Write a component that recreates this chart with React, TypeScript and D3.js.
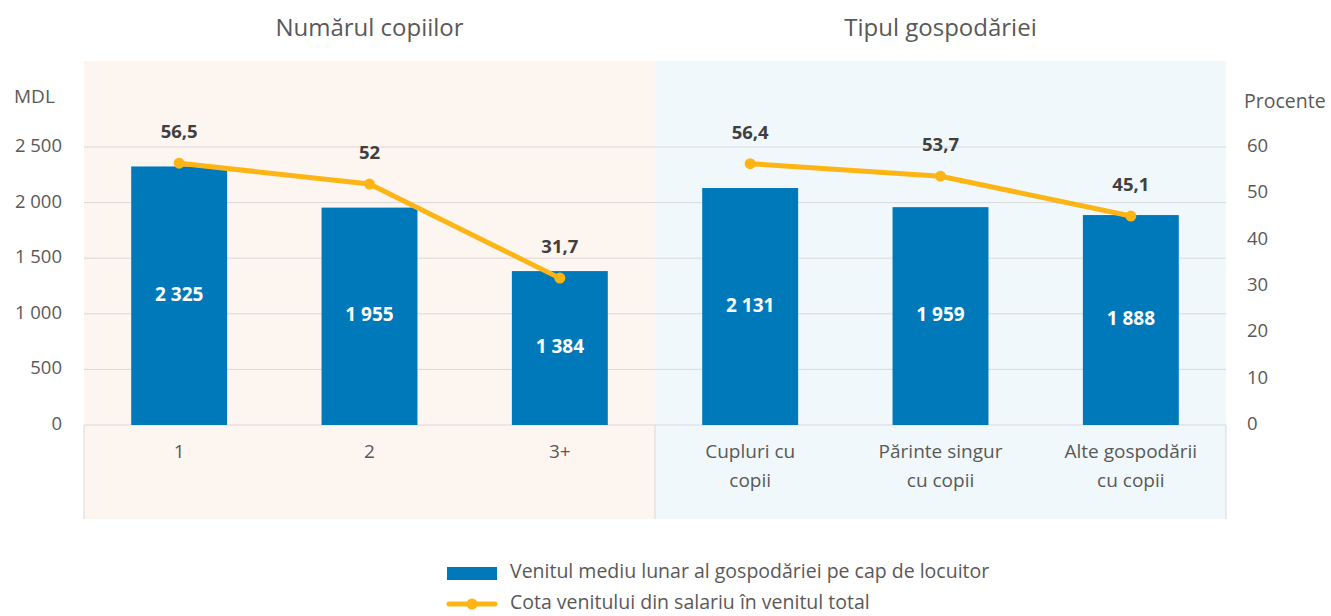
import React from "react";
import * as d3 from "d3";

const categories = ["1", "2", "3+", "Cupluri cu\ncopii", "Părinte singur\ncu copii", "Alte gospodării\ncu copii"];
const groups = ["Numărul copiilor", "Tipul gospodăriei"];
const groupOf = [0, 0, 0, 1, 1, 1];
const income = [2325, 1955, 1384, 2131, 1959, 1888];
const incomeLabels = ["2 325", "1 955", "1 384", "2 131", "1 959", "1 888"];
const share = [56.5, 52, 31.7, 56.4, 53.7, 45.1];
const shareLabels = ["56,5", "52", "31,7", "56,4", "53,7", "45,1"];
const leftTicks = [0, 500, 1000, 1500, 2000, 2500];
const leftTickLabels = ["0", "500", "1 000", "1 500", "2 000", "2 500"];
const rightTicks = [0, 10, 20, 30, 40, 50, 60];
const legendLabels = ["Venitul mediu lunar al gospodăriei pe cap de locuitor", "Cota venitului din salariu în venitul total"];

const W = 1331, H = 616;
const plotL = 84, plotR = 1226, plotT = 61, zeroY = 425, catB = 519;
const BAR = "#0079BA", LINE = "#FDB515", TXT = "#595959", GRID = "#D9D9D9";
const bgColors = ["#FDF5F0", "#F0F8FB"];
const FONT = "'Open Sans', sans-serif";

export default function App() {
  const x = d3.scaleBand<number>().domain(d3.range(categories.length)).range([plotL, plotR]).paddingInner(0.496).paddingOuter(0.248);
  const yL = d3.scaleLinear().domain([0, 2500]).range([zeroY, 147]);
  const yR = d3.scaleLinear().domain([0, 60]).range([zeroY, 147]);
  const cx = (i: number) => (x(i) as number) + x.bandwidth() / 2;
  const step = x.step();
  const groupX0 = (g: number) => {
    const idx = groupOf.indexOf(g);
    return g === 0 ? plotL : (x(idx) as number) - (step - x.bandwidth()) / 2;
  };
  const groupX1 = (g: number) => (g === 0 ? groupX0(1) : plotR);
  const lineGen = d3.line<number>().x((d) => cx(d)).y((d) => yR(share[d]));

  return (
    <svg width={W} height={H} style={{ position: "absolute", left: 0, top: 0, fontFamily: FONT }}>
      {groups.map((g, gi) => (
        <rect key={g} x={groupX0(gi)} y={plotT} width={groupX1(gi) - groupX0(gi)} height={catB - plotT} fill={bgColors[gi]} />
      ))}
      {groups.map((g, gi) => (
        <text key={"t" + g} x={(groupX0(gi) + groupX1(gi)) / 2} y={30} textAnchor="middle" dominantBaseline="middle" fontSize={24} fill={TXT}>{g}</text>
      ))}
      {leftTicks.map((t) => (
        <line key={"g" + t} x1={plotL} x2={plotR} y1={yL(t)} y2={yL(t)} stroke={GRID} strokeWidth={1} />
      ))}
      <line x1={plotL} x2={plotL} y1={zeroY} y2={catB} stroke={GRID} />
      <line x1={groupX0(1)} x2={groupX0(1)} y1={zeroY} y2={catB} stroke={GRID} />
      <line x1={plotR} x2={plotR} y1={zeroY} y2={catB} stroke={GRID} />
      {leftTicks.map((t, i) => (
        <text key={"l" + t} x={62} y={yL(t)} textAnchor="end" dominantBaseline="middle" fontSize={18.5} fill={TXT}>{leftTickLabels[i]}</text>
      ))}
      {rightTicks.map((t) => (
        <text key={"r" + t} x={1247} y={yR(t)} textAnchor="start" dominantBaseline="middle" fontSize={18.5} fill={TXT}>{t}</text>
      ))}
      <text x={14} y={98} dominantBaseline="middle" fontSize={19} fill={TXT}>MDL</text>
      <text x={1244} y={103} dominantBaseline="middle" fontSize={19.5} fill={TXT}>Procente</text>
      {income.map((v, i) => (
        <rect key={"b" + i} x={x(i)} y={yL(v)} width={x.bandwidth()} height={zeroY - yL(v)} fill={BAR} />
      ))}
      {income.map((v, i) => (
        <text key={"bl" + i} x={cx(i)} y={(yL(v) + zeroY) / 2} textAnchor="middle" dominantBaseline="middle" fontSize={19} fontWeight="bold" fill="#FFFFFF">{incomeLabels[i]}</text>
      ))}
      {groups.map((g, gi) => (
        <path key={"ln" + gi} d={lineGen(d3.range(categories.length).filter((i) => groupOf[i] === gi)) || ""} fill="none" stroke={LINE} strokeWidth={5} strokeLinejoin="round" />
      ))}
      {share.map((v, i) => (
        <circle key={"c" + i} cx={cx(i)} cy={yR(v)} r={5.5} fill={LINE} />
      ))}
      {share.map((v, i) => (
        <text key={"sl" + i} x={cx(i)} y={yR(v) - 30} textAnchor="middle" dominantBaseline="middle" fontSize={18.5} fontWeight="bold" fill="#404040">{shareLabels[i]}</text>
      ))}
      {categories.map((c, i) => (
        <text key={"cat" + i} x={cx(i)} y={453} textAnchor="middle" fontSize={19} fill={TXT}>
          {c.split("\n").map((line, li) => (
            <tspan key={li} x={cx(i)} y={453 + li * 29} dominantBaseline="middle">{line}</tspan>
          ))}
        </text>
      ))}
      <rect x={447} y={567} width={50} height={13} fill={BAR} />
      <text x={510} y={573} dominantBaseline="middle" fontSize={19.5} fill={TXT}>{legendLabels[0]}</text>
      <line x1={449} x2={495} y1={604} y2={604} stroke={LINE} strokeWidth={5} strokeLinecap="round" />
      <circle cx={472} cy={604} r={5.5} fill={LINE} />
      <text x={510} y={604} dominantBaseline="middle" fontSize={19.5} fill={TXT}>{legendLabels[1]}</text>
    </svg>
  );
}
